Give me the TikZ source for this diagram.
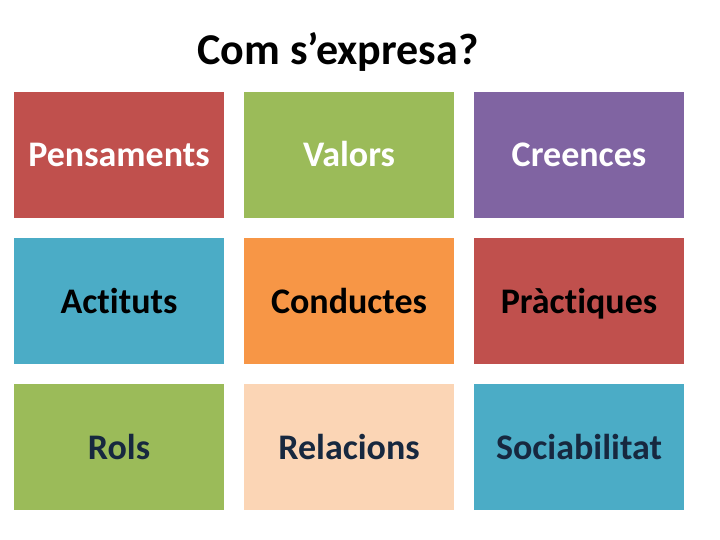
\documentclass[tikz,border=0pt]{standalone}
\usepackage{fontspec}
\setmainfont[Ligatures=NoCommon]{Carlito}
\definecolor{boxred}{HTML}{C0504D}
\definecolor{boxgreen}{HTML}{9BBB59}
\definecolor{boxpurple}{HTML}{8064A2}
\definecolor{boxteal}{HTML}{4BACC6}
\definecolor{boxorange}{HTML}{F79646}
\definecolor{boxpeach}{HTML}{FBD5B5}
\definecolor{navytext}{HTML}{17283F}
\begin{document}
\begin{tikzpicture}[x=1pt, y=-1pt,
    card/.style={minimum width=210pt, minimum height=126pt, inner sep=0pt,
      text height=30pt, text depth=6pt,
      font=\bfseries\fontsize{36}{40}\selectfont},
    title/.style={font=\bfseries\fontsize{44}{48}\selectfont}]
          \useasboundingbox (0,0) rectangle (720,540);
          \node[title] (title) at (338, 52) {Com s’expresa?};

          \node[card, fill=boxred, text=white] (pens) at (119, 155) {Pensaments};
          \node[card, fill=boxgreen, text=white] (val) at (349, 155) {Valors};
          \node[card, fill=boxpurple, text=white] (cre) at (579, 155) {Creences};

          \node[card, fill=boxteal, text=black] (act) at (119, 301) {Actituts};
          \node[card, fill=boxorange, text=black] (cond) at (349, 301) {Conductes};
          \node[card, fill=boxred, text=black] (prac) at (579, 301) {Pràctiques};

          \node[card, fill=boxgreen, text=navytext] (rols) at (119, 447) {Rols};
          \node[card, fill=boxpeach, text=navytext] (rel) at (349, 447) {Relacions};
          \node[card, fill=boxteal, text=navytext] (soc) at (579, 447) {Sociabilitat};
        \end{tikzpicture}
\end{document}
